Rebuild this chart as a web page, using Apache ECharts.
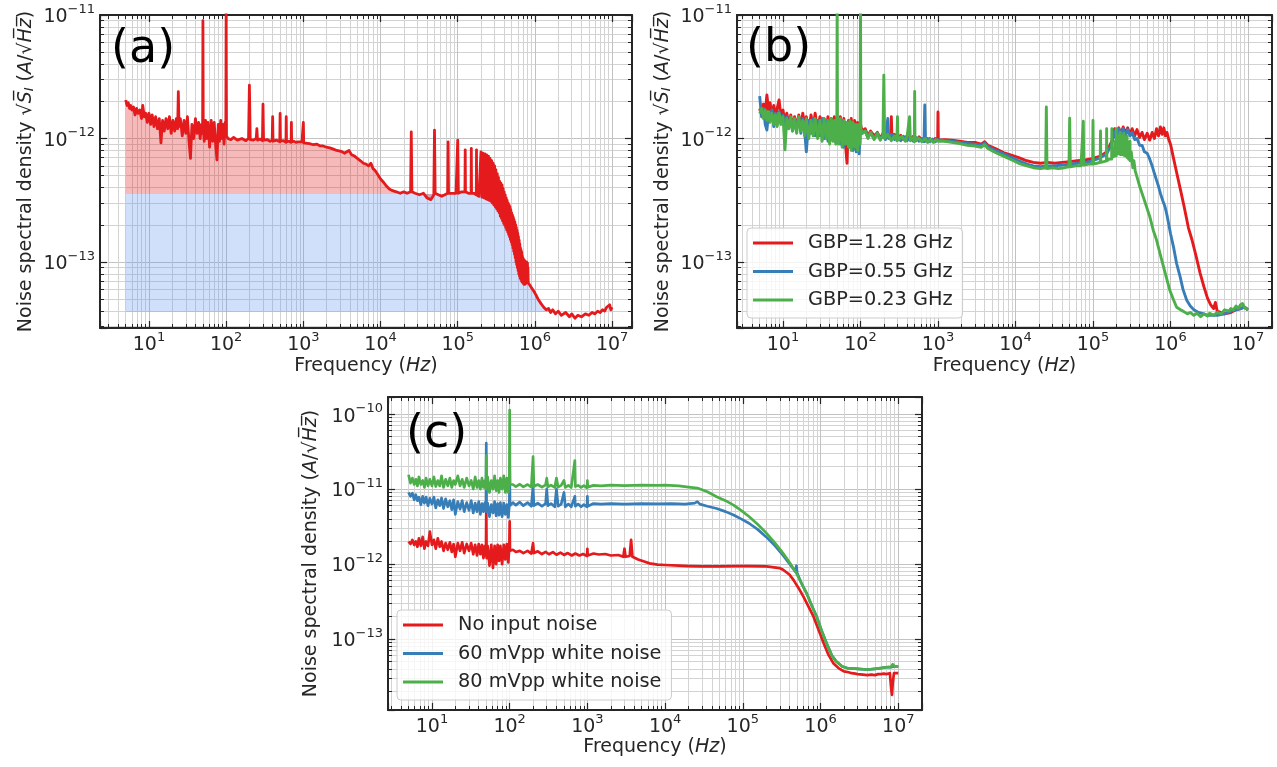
<!DOCTYPE html>
<html>
<head>
<meta charset="utf-8">
<script src="https://cdn.jsdelivr.net/npm/echarts@6/dist/echarts.min.js"></script>
<style>
  html, body { margin: 0; padding: 0; background: #ffffff; }
  #chart { width: 1277px; height: 767px; }
</style>
</head>
<body>
<div id="chart"></div>
<script>
// ---------------------------------------------------------------
// Measured noise spectra, pairs of [frequency in Hz, noise in pA/√Hz]
// ---------------------------------------------------------------

// (a) amplifier noise with the white-noise level shaded
const sweepA = [
  [5,2.05],[5.2,1.85],[5.4,1.95],[5.6,1.75],[5.8,1.85],[6,1.7],[6.3,1.8],[6.6,1.55],[6.9,1.75],[7.2,1.6],
  [7.6,1.7],[8,1.45],[8.3,1.85],[8.7,1.5],[9.1,1.6],[9.5,1.35],[10,1.6],[10.5,1.3],[11,1.55],[11.6,1.25],
  [12.2,1.5],[12.9,1.2],[13.6,1.45],[14.3,0.92],[15,1.4],[15.8,1.15],[16.6,1.45],[17.5,1.2],[18.4,1.5],[19.4,1.1],
  [20.4,1.4],[21.5,1.15],[22.6,1.45],[23.5,1.2],[24,2.4],[24.5,1.25],[25.5,1.45],[27,1.05],[28.5,1.4],[30,1.1],
  [31.5,1.5],[33,0.95],[34.5,0.69],[36,1.3],[38,1.0],[40,1.45],[42,1.1],[44,1.35],[46,1.0],[48,1.3],
  [49.5,1.1],[50,9.0],[50.5,1.2],[52,0.95],[54,1.4],[56,1.0],[58,1.35],[61,0.85],[64,1.4],[67,0.95],
  [70,1.35],[73,0.9],[76,0.67],[79,1.3],[82,0.95],[85,1.4],[88,1.0],[91,1.3],[94,0.9],[97,1.35],
  [99,1.1],[100,12],[101,1.05],
  [105,1.0],[115,0.98],[125,1.02],[140,0.97],[160,1.0],[180,0.96],[195,1.0],[200,2.7],[205,0.98],[225,0.97],
  [245,1.0],[250,1.2],[255,0.97],[275,0.99],[295,0.96],[300,1.9],[305,0.97],[340,0.98],[370,0.95],[395,0.97],
  [400,1.5],[405,0.95],[450,0.97],[495,0.94],[500,1.6],[505,0.95],[550,0.96],[595,0.93],[600,1.5],[605,0.94],
  [650,0.95],[695,0.93],[700,1.35],[705,0.94],[750,0.95],[800,0.93],[850,0.94],[900,0.92],[960,0.94],[995,0.93],
  [1000,1.35],[1010,0.92],
  [1200,0.91],[1350,0.89],[1500,0.9],[1650,0.87],[1800,0.87],[2000,0.85],[2200,0.84],[2450,0.82],[2700,0.8],[3000,0.79],
  [3200,0.78],[3400,0.76],[3600,0.76],[3900,0.8],[4200,0.74],[4600,0.72],[5000,0.69],[5500,0.66],[6000,0.63],[6500,0.62],
  [7000,0.6],[7500,0.63],[8000,0.57],[8500,0.55],[9200,0.51],[10000,0.47],[11000,0.44],[12000,0.41],[13000,0.39],[14000,0.38],
  [16000,0.37],[18000,0.36],[20000,0.37],
  [22000,0.36],[24500,0.37],[25000,1.13],[25500,0.37],[28000,0.36],[32000,0.35],[36000,0.36],[40000,0.33],[45000,0.32],[49000,0.35],
  [50000,1.17],[51000,0.36],[56000,0.35],[62000,0.34],[68000,0.35],[74000,0.36],[75000,0.94],[76000,0.36],[85000,0.36],[95000,0.36],
  [100000,0.97],[102000,0.36],[112000,0.37],[124000,0.37],[125000,0.81],[126000,0.37],[138000,0.36],[149000,0.36],[150000,0.83],[151000,0.36],
  [162000,0.36],[174000,0.35],[175000,0.81],[176000,0.35],[188000,0.34],[199000,0.34],
  // comb of 12.5 kHz harmonics riding on the roll-off
  [200000,0.78],[206000,0.335],[212000,0.76],[219000,0.33],[225000,0.75],[231000,0.325],[237000,0.735],[244000,0.32],
  [250000,0.72],[256000,0.315],[262000,0.69],[269000,0.31],[275000,0.66],[281000,0.3],[287000,0.63],[294000,0.29],
  [300000,0.6],[306000,0.28],[312000,0.56],[319000,0.27],[325000,0.52],[331000,0.26],[337000,0.485],[344000,0.25],
  [350000,0.45],[356000,0.235],[362000,0.435],[369000,0.225],[375000,0.42],[381000,0.215],[387000,0.395],[394000,0.205],
  [400000,0.37],[406000,0.198],[412000,0.35],[419000,0.19],[425000,0.33],[431000,0.182],[437000,0.315],[444000,0.175],
  [450000,0.3],[456000,0.167],[462000,0.29],[469000,0.16],[475000,0.28],[481000,0.152],[487000,0.265],[494000,0.145],
  [500000,0.25],[506000,0.138],[512000,0.24],[519000,0.13],[525000,0.23],[531000,0.122],[537000,0.22],[544000,0.115],
  [550000,0.21],[556000,0.108],[562000,0.2],[569000,0.1],[575000,0.19],[581000,0.095],[587000,0.18],[594000,0.09],
  [600000,0.17],[606000,0.085],[612000,0.16],[619000,0.08],[625000,0.15],[631000,0.077],[637000,0.14],[644000,0.074],
  [650000,0.13],[656000,0.072],[662000,0.125],[669000,0.07],[675000,0.12],[681000,0.069],[687000,0.112],[694000,0.068],
  [700000,0.108],[706000,0.067],[712000,0.105],[719000,0.066],[725000,0.104],[731000,0.066],[737000,0.102],[744000,0.066],
  [750000,0.1],[756000,0.067],[762000,0.1],[769000,0.067],[775000,0.1],[781000,0.068],[787000,0.099],[794000,0.068],
  [800000,0.098],[806000,0.068],[812000,0.09],[819000,0.068],
  [850000,0.066],[900000,0.062],[950000,0.059],[1000000,0.056],[1050000,0.053],[1100000,0.05],[1200000,0.046],[1300000,0.043],
  [1400000,0.041],[1500000,0.042],[1600000,0.039],[1700000,0.041],[1850000,0.038],[2000000,0.04],[2200000,0.037],[2500000,0.039],
  [2800000,0.036],[3000000,0.038],[3300000,0.035],[3600000,0.037],[4000000,0.036],[4500000,0.038],[5000000,0.037],[5500000,0.039],
  [6000000,0.038],[6500000,0.04],[7000000,0.039],[7500000,0.041],[8000000,0.04],[8500000,0.043],[8800000,0.044],[9000000,0.042],
  [9300000,0.045],[9600000,0.041],[10000000,0.043]
];
const whiteLevelA = 0.356;   // pA/√Hz, top of the blue band
const floorLevelA = 0.0394;  // pA/√Hz, bottom of the blue band
const kneeA = 2.6e5;         // Hz, end of the flat white-noise band
const fillEndA = 1.6e6;      // Hz, where the roll-off meets the floor

// (b) three gain-bandwidth products
const gbp128 = [
  [5,1.75],[5.3,1.55],[5.6,1.9],[5.9,1.6],[6.2,2.25],[6.5,1.7],[6.8,1.95],[7.2,1.55],[7.6,1.85],[8,1.5],
  [8.4,1.75],[8.9,2.05],[9.4,1.5],[10,1.7],[10.6,1.35],[11.2,1.6],[11.9,1.3],[12.6,1.55],[13.3,1.2],[14.1,1.5],
  [15,1.25],[16,1.55],[17,1.2],[18,1.6],[19,1.25],[20,1.5],[21.5,1.15],[23,1.55],[24.5,1.2],[26,1.6],
  [28,1.15],[30,1.5],[32,1.1],[34,1.45],[36,1.05],[38,1.5],[40,1.1],[42,1.45],[44,1.05],[46,1.5],
  [48,1.1],[50,1.45],[52,1.0],[55,1.5],[58,0.95],[61,1.45],[64,0.9],[67,0.63],[70,1.4],[73,0.95],
  [76,1.45],[80,0.95],[84,1.4],[88,0.9],[92,1.35],[96,0.95],[100,1.3],
  [105,1.15],[115,1.2],[125,1.05],[135,1.15],[150,1.05],[165,1.12],[180,1.0],[195,1.1],[210,1.0],[225,1.1],
  [245,1.0],[250,1.5],[255,1.0],[275,1.08],[300,1.0],[330,1.06],[360,0.98],[400,1.05],[440,0.97],[480,1.04],
  [520,0.96],[570,1.03],[620,0.96],[670,1.02],[720,0.95],[780,1.0],[850,0.95],[920,1.0],[990,0.96],[1000,1.64],
  [1010,0.97],
  [1200,0.98],[1500,0.97],[1900,0.95],[2400,0.93],[3000,0.93],[3600,0.9],[4000,0.94],[4400,0.88],[5500,0.83],[7000,0.77],
  [9000,0.73],[11000,0.7],[14000,0.66],[17000,0.64],[21000,0.63],[26000,0.64],[32000,0.63],[40000,0.64],[50000,0.65],[63000,0.66],
  [80000,0.67],[100000,0.69],[125000,0.72],[150000,0.78],[175000,0.95],
  [190000,1.2],[200000,1.05],[215000,1.22],[230000,1.08],[245000,1.24],[260000,1.1],[280000,1.22],[300000,1.08],[320000,1.2],[345000,1.05],
  [370000,1.18],[400000,1.02],[430000,1.12],[460000,0.98],[500000,1.1],[540000,0.97],[580000,1.12],[620000,1.0],[660000,1.2],[700000,1.05],
  [740000,1.24],[780000,1.08],[820000,1.22],[860000,1.05],[900000,1.12],[950000,0.98],
  [1000000,0.9],[1100000,0.68],[1200000,0.53],[1350000,0.38],[1500000,0.28],[1700000,0.19],[1900000,0.15],[2150000,0.11],[2400000,0.082],[2700000,0.063],
  [3000000,0.051],[3300000,0.045],[3600000,0.042],[3800000,0.047],[4000000,0.04],[5000000,0.038],[6000000,0.039],[7000000,0.041],[8000000,0.042],[9000000,0.043],
  [10000000,0.041]
];
const gbp055 = [
  [5,2.2],[5.3,1.5],[5.6,1.75],[5.9,1.3],[6.2,1.17],[6.5,1.6],[6.8,1.4],[7.2,1.7],[7.6,1.25],[8,1.6],
  [8.4,1.3],[8.9,1.65],[9.4,1.35],[10,1.55],[10.6,1.2],[11.2,1.5],[11.9,1.25],[12.6,1.45],[13.3,1.15],[14.1,1.45],
  [15,1.2],[16,1.5],[17,1.1],[18,1.45],[19,1.15],[20,0.78],[21.5,1.4],[23,1.1],[24.5,1.45],[26,1.05],
  [28,1.4],[30,1.05],[32,1.45],[34,1.0],[36,1.4],[38,0.95],[40,1.4],[42,1.0],[44,1.35],[46,0.95],
  [48,1.4],[50,1.0],[52,1.35],[55,0.9],[58,1.4],[61,0.85],[64,1.35],[67,0.9],[70,1.3],[73,0.85],
  [76,1.35],[80,0.8],[84,1.3],[88,0.78],[92,1.3],[96,0.75],[100,1.2],
  [105,1.1],[115,1.15],[125,1.02],[135,1.12],[150,1.0],[165,1.1],[180,0.98],[195,1.08],[210,0.98],[225,1.45],
  [230,1.0],[250,1.08],[275,0.98],[300,1.05],[330,0.96],[360,1.04],[400,0.96],[440,1.03],[480,0.95],[520,1.02],
  [570,0.95],[620,1.0],[660,0.94],[675,1.87],[690,0.95],[730,1.0],[780,0.94],[850,0.99],[920,0.94],[990,0.98],
  [1200,0.96],[1500,0.95],[1900,0.93],[2400,0.91],[3000,0.9],[3600,0.88],[4000,0.92],[4400,0.86],[5500,0.8],[7000,0.75],
  [9000,0.7],[11000,0.66],[14000,0.62],[17000,0.6],[21000,0.59],[26000,0.6],[32000,0.6],[40000,0.61],[50000,0.62],[63000,0.63],
  [80000,0.64],[100000,0.66],[125000,0.7],[150000,0.75],[175000,0.9],
  [190000,1.15],[200000,1.0],[215000,1.2],[230000,1.05],[245000,1.2],[260000,1.05],[280000,1.18],[300000,1.05],[320000,1.12],[345000,0.98],
  [370000,1.0],[400000,0.88],[430000,0.88],[460000,0.78],[500000,0.76],[540000,0.68],[580000,0.6],[620000,0.52],[660000,0.46],[700000,0.41],
  [750000,0.35],[800000,0.31],[850000,0.28],[900000,0.24],[1000000,0.17],[1100000,0.13],[1200000,0.097],[1330000,0.076],[1450000,0.06],[1620000,0.049],
  [1800000,0.044],[2000000,0.041],[2300000,0.039],[2700000,0.038],[3000000,0.037],[4000000,0.037],[5000000,0.038],[6000000,0.04],[7000000,0.041],[8000000,0.042],
  [9000000,0.043],[10000000,0.041]
];
const gbp023 = [
  [5,1.6],[5.3,1.75],[5.6,1.45],[5.9,1.7],[6.2,1.4],[6.5,1.65],[6.8,1.35],[7.2,1.6],[7.6,1.3],[8,1.55],
  [8.4,1.25],[8.9,1.6],[9.4,1.3],[10,1.5],[10.6,0.81],[11.2,1.45],[11.9,1.2],[12.6,1.5],[13.3,1.15],[14.1,1.45],
  [15,1.1],[16,1.5],[17,1.15],[18,1.4],[19,1.05],[20,1.45],[21.5,1.0],[23,1.4],[24.5,1.05],[26,1.45],
  [28,1.0],[30,1.4],[32,0.95],[34,1.45],[36,1.0],[38,1.4],[40,0.9],[42,1.45],[44,0.95],[46,1.4],
  [48,0.9],[49.5,1.3],[50,14],[50.5,1.3],[52,0.9],[55,1.45],[58,0.85],[61,1.4],[64,0.9],[67,1.35],
  [70,0.85],[73,1.4],[76,0.8],[80,1.35],[84,0.85],[88,1.3],[92,0.8],[96,1.3],[99,0.9],[100,14],
  [101,1.2],
  [105,1.1],[115,1.15],[125,1.0],[135,1.12],[150,0.98],[165,1.1],[180,0.97],[195,1.06],[200,3.26],[205,1.0],
  [225,1.08],[250,0.96],[275,1.05],[295,0.96],[300,1.5],[305,0.97],[340,1.04],[380,0.95],[400,1.05],[430,1.5],
  [440,0.96],[480,1.02],[495,0.94],[500,2.4],[505,0.95],[560,1.01],[620,0.94],[680,1.0],[740,0.93],[800,0.99],
  [870,0.93],[940,0.98],[1000,0.95],
  [1200,0.95],[1500,0.93],[1900,0.91],[2400,0.88],[3000,0.87],[3600,0.85],[4000,0.89],[4400,0.83],[5500,0.77],[7000,0.72],
  [9000,0.67],[11000,0.63],[14000,0.6],[17000,0.58],[21000,0.57],[24500,0.58],[25000,1.8],[25500,0.57],[30000,0.58],[36000,0.57],
  [43000,0.58],[49000,0.59],[50000,1.46],[51000,0.59],[60000,0.6],[70000,0.6],[74000,0.61],[75000,1.38],[76000,0.61],[88000,0.62],
  [99000,0.62],[100000,1.4],[101000,0.62],[112000,0.63],[124000,0.64],[125000,1.15],[126000,0.64],[138000,0.65],[149000,0.66],[150000,1.2],
  [151000,0.66],[162000,0.68],[174000,0.68],[175000,1.2],[176000,0.7],[188000,0.72],[194000,0.95],[199000,0.72],[200000,1.2],[201000,0.74],
  [206000,1.0],[212000,0.75],[219000,1.05],[225000,1.12],[226000,0.74],[232000,1.0],[240000,0.74],[245000,1.05],[250000,1.1],[251000,0.73],
  [257000,0.98],[263000,0.72],[269000,0.95],[275000,1.05],[276000,0.7],[282000,0.9],[288000,0.68],[294000,0.86],[300000,0.95],[301000,0.66],
  [312000,0.78],[325000,0.8],[326000,0.58],[337000,0.66],[350000,0.55],[365000,0.5],[380000,0.46],[400000,0.41],[450000,0.33],[540000,0.233],
  [600000,0.18],[660000,0.151],[730000,0.118],[810000,0.092],[900000,0.072],[980000,0.059],[1100000,0.049],[1200000,0.043],[1350000,0.041],[1470000,0.0398],
  [1650000,0.038],[1800000,0.039],[2000000,0.037],[2200000,0.0385],[2450000,0.036],[2700000,0.038],[3000000,0.0365],[3200000,0.0385],[3600000,0.037],[4000000,0.039],
  [4500000,0.038],[5000000,0.041],[5300000,0.042],[5700000,0.04],[6000000,0.042],[6500000,0.041],[7000000,0.044],[7500000,0.042],[8000000,0.045],[8500000,0.046],
  [9000000,0.043],[9500000,0.044],[10000000,0.041]
];

// (c) with white noise injected at the input
const noInput = [
  [5,2.0],[5.3,1.85],[5.6,2.1],[5.9,1.8],[6.2,2.0],[6.5,1.7],[6.8,2.2],[7.2,1.75],[7.6,2.3],[8,1.6],
  [8.4,2.0],[8.9,1.75],[9.4,2.7],[10,1.8],[10.6,2.1],[11.2,1.6],[11.9,2.2],[12.6,1.7],[13.3,2.0],[14.1,1.5],
  [15,1.9],[16,1.55],[17,1.95],[18,1.45],[19,1.85],[20,1.25],[21.5,1.9],[23,1.5],[24.5,1.95],[26,1.4],
  [28,1.85],[30,1.5],[32,1.9],[34,1.35],[36,1.8],[38,1.3],[40,1.85],[42,1.35],[44,1.8],[46,1.2],
  [48,1.75],[49.5,1.3],[50,5.8],[50.5,1.2],[52,1.75],[55,0.95],[58,1.8],[61,0.89],[64,1.75],[67,1.0],
  [70,1.8],[73,1.1],[76,1.75],[80,1.0],[84,1.8],[88,1.15],[92,1.85],[96,1.05],[99,1.7],[100,3.7],
  [101,1.5],
  [110,1.55],[120,1.45],[135,1.5],[150,1.4],[170,1.5],[190,1.38],[200,1.9],[205,1.4],[230,1.48],[260,1.36],
  [290,1.45],[320,1.35],[360,1.44],[400,1.33],[450,1.42],[500,1.32],[560,1.4],[630,1.3],[700,1.38],[790,1.3],
  [880,1.36],[990,1.28],[1000,1.6],[1010,1.3],
  [1200,1.38],[1400,1.34],[1700,1.36],[2000,1.3],[2500,1.32],[2900,1.25],[3000,1.6],[3100,1.25],[3500,1.28],[3650,2.1],
  [3800,1.25],[4500,1.15],[5500,1.07],[6300,1.02],[8000,0.98],[10000,0.97],[15000,0.95],[20000,0.94],[30000,0.93],[50000,0.93],
  [80000,0.94],[120000,0.94],[200000,0.93],[300000,0.88],[330000,0.84],[400000,0.72],[450000,0.61],[520000,0.48],[600000,0.37],[700000,0.27],
  [810000,0.2],[950000,0.13],[1100000,0.087],[1250000,0.063],[1470000,0.047],[1700000,0.041],[2000000,0.037],[2300000,0.036],[2500000,0.035],[2800000,0.0345],
  [3000000,0.034],[3500000,0.0335],[4000000,0.033],[4500000,0.0335],[5000000,0.033],[5500000,0.034],[6000000,0.034],[6500000,0.0345],[7000000,0.034],[7800000,0.035],
  [8100000,0.022],[8300000,0.018],[8500000,0.026],[8800000,0.035],[9300000,0.034],[10000000,0.035]
];
const white60 = [
  [5,9.0],[5.3,8.0],[5.6,8.8],[5.9,7.2],[6.2,8.4],[6.5,7.0],[6.8,7.8],[7.2,6.2],[7.6,8.0],[8,6.5],
  [8.4,7.8],[8.9,6.0],[9.4,7.5],[10,6.3],[10.6,7.8],[11.2,5.6],[11.9,7.2],[12.6,6.0],[13.3,7.6],[14.1,5.5],
  [15,7.4],[16,5.8],[17,7.0],[18,5.3],[19,7.2],[20,4.6],[21.5,6.8],[23,5.4],[24.5,7.0],[26,5.0],
  [28,6.6],[30,5.2],[32,7.0],[34,4.8],[36,6.5],[38,5.0],[40,6.8],[42,4.6],[44,6.4],[46,5.0],
  [48,6.6],[49.5,5.0],[50,41],[50.5,5.0],[52,6.5],[55,4.3],[58,6.2],[61,4.8],[64,6.8],[67,4.4],
  [70,6.4],[73,4.5],[76,6.6],[80,4.3],[84,6.5],[88,4.6],[92,6.2],[96,4.2],[99,6.0],[100,20],
  [101,6.0],
  [110,6.6],[120,6.1],[135,6.7],[150,6.0],[170,6.6],[190,5.9],[200,11],[205,6.0],[230,6.5],[260,5.9],
  [290,6.4],[300,10],[310,6.0],[340,6.4],[380,5.8],[400,10],[420,5.9],[460,6.3],[500,9],[520,5.8],
  [570,6.3],[620,5.8],[690,8],[700,5.9],[760,6.3],[830,5.8],[900,6.2],[990,5.8],[1000,8],[1010,5.9],
  [1200,6.4],[1500,6.3],[2000,6.4],[3000,6.3],[5000,6.4],[8000,6.35],[12000,6.4],[18000,6.3],[24000,6.5],[26000,6.8],
  [28000,6.3],[35000,5.9],[46000,5.5],[60000,5.0],[76000,4.5],[95000,4.0],[120000,3.5],[155000,2.9],[200000,2.3],[260000,1.75],
  [330000,1.3],[400000,1.0],[470000,0.8],[490000,0.95],[500000,0.76],[570000,0.55],[660000,0.41],[770000,0.28],[890000,0.2],[1030000,0.13],
  [1200000,0.087],[1400000,0.06],[1600000,0.05],[1900000,0.043],[2200000,0.041],[3000000,0.04],[4000000,0.039],[5000000,0.04],[6000000,0.041],[7000000,0.042],
  [8000000,0.042],[9000000,0.043],[10000000,0.043]
];
const white80 = [
  [5,15.5],[5.3,12],[5.6,14],[5.9,11.5],[6.2,13.5],[6.5,11],[6.8,14.5],[7.2,11.5],[7.6,13],[8,10.5],
  [8.4,14],[8.9,11],[9.4,13.5],[10,11],[10.6,14.5],[11.2,10.8],[11.9,13],[12.6,11],[13.3,15],[14.1,10.5],
  [15,13.5],[16,11],[17,14],[18,10.5],[19,13],[20,11.5],[21.5,15],[23,11],[24.5,13.5],[26,10.5],
  [28,14],[30,11],[32,13],[34,10],[36,14.5],[38,10.5],[40,13],[42,10],[44,14],[46,10.5],
  [48,13],[49.5,10],[50,28],[50.5,11],[52,14.5],[55,9],[58,13],[61,10],[64,15],[67,9.5],
  [70,13],[73,9],[76,14],[80,10],[84,15],[88,9],[92,14],[96,9],[99,12],[100,113],
  [101,11.5],
  [110,11.5],[120,10.8],[135,11.6],[150,10.7],[170,11.5],[190,10.6],[200,27],[205,10.8],[230,11.5],[260,10.6],
  [290,11.4],[300,14],[310,10.7],[340,11.3],[380,10.5],[400,14],[420,10.6],[460,11.2],[500,13],[520,10.5],
  [570,11.2],[620,10.5],[690,24],[700,10.8],[760,11.2],[830,10.5],[900,11.1],[990,10.4],[1000,13],[1010,10.6],
  [1200,11.2],[1500,11.0],[2000,11.3],[3000,11.1],[5000,11.3],[8000,11.2],[10000,11.3],[15000,11.0],[20000,10.6],[26000,10.3],
  [35000,9.2],[46000,7.9],[60000,7.0],[76000,6.1],[95000,5.2],[120000,4.3],[155000,3.4],[200000,2.6],[260000,1.9],[330000,1.39],
  [400000,1.05],[490000,0.75],[570000,0.55],[660000,0.41],[770000,0.28],[890000,0.2],[1030000,0.13],[1200000,0.087],[1400000,0.06],[1600000,0.05],
  [1900000,0.043],[2200000,0.041],[2600000,0.0405],[3000000,0.04],[3500000,0.0395],[4000000,0.039],[4500000,0.0395],[5000000,0.04],[5500000,0.0405],[6000000,0.041],
  [6500000,0.0415],[7000000,0.042],[7500000,0.0425],[8000000,0.042],[8500000,0.046],[9000000,0.043],[9500000,0.044],[10000000,0.043]
];

const seriesNamesB = ['GBP=1.28 GHz', 'GBP=0.55 GHz', 'GBP=0.23 GHz'];
const seriesNamesC = ['No input noise', '60 mVpp white noise', '80 mVpp white noise'];
const panelTags = ['(a)', '(b)', '(c)'];

// ---------------------------------------------------------------
// Styling
// ---------------------------------------------------------------
const FONT = 'DejaVu Sans';
const INK = '#262626';
const RED = '#e41a1c', BLUE = '#377eb8', GREEN = '#4daf4a';
const PA = 1e-12; // pA -> A

const toAmps = arr => arr.map(p => [p[0], p[1] * PA]);

// Power-of-ten tick labels: 10 with a superscript exponent
function decadeLabel(v) {
  const e = Math.log10(v);
  const r = Math.round(e);
  if (Math.abs(e - r) > 1e-6) return '';
  const exp = r < 0 ? '\u2212' + (-r) : String(r);
  return '{b|10}{s|' + exp + '}';
}
const tickRich = {
  b: { fontFamily: FONT, fontSize: 19, color: INK, lineHeight: 24, verticalAlign: 'bottom' },
  s: { fontFamily: FONT, fontSize: 13, color: INK, verticalAlign: 'top' }
};
const nameRich = {
  n: { fontFamily: FONT, fontSize: 19, color: INK },
  i: { fontFamily: FONT, fontSize: 19, color: INK, fontStyle: 'italic' },
  sub: { fontFamily: FONT, fontSize: 13, color: INK, fontStyle: 'italic', verticalAlign: 'bottom' }
};
const xName = '{n|Frequency (}{i|Hz}{n|)}';
const yNameAB = '{n|Noise spectral density \u221A}{i|S\u0305}{sub|I}{n| (}{i|A}{n|/\u221A}{i|H\u0305z\u0305}{n|)}';
const yNameC = '{n|Noise spectral density (}{i|A}{n|/\u221A}{i|H\u0305z\u0305}{n|)}';

const gridLine = { show: true, lineStyle: { color: '#c2c2c2', width: 1 } };
const minorGridLine = { show: true, lineStyle: { color: '#d3d3d3', width: 1 } };

function logAxis(gridIndex, min, max, position, extra) {
  return Object.assign({
    type: 'log', logBase: 10, gridIndex, min, max, position,
    axisLine: { show: true, lineStyle: { color: INK, width: 2 } },
    axisTick: { show: true, inside: true, length: 7, lineStyle: { color: INK, width: 1.2 } },
    minorTick: { show: true, splitNumber: 9, length: 4, lineStyle: { color: INK, width: 1 } },
    splitLine: { show: false },
    minorSplitLine: { show: false },
    axisLabel: { show: false }
  }, extra || {});
}

function panelAxes(gridIndex, xr, yr, yName, yNameGap, xNameGap) {
  const xs = [
    logAxis(gridIndex, xr[0], xr[1], 'bottom', {
      splitLine: gridLine, minorSplitLine: minorGridLine,
      axisLabel: { show: true, margin: 3, formatter: decadeLabel, rich: tickRich, hideOverlap: false },
      name: xName, nameLocation: 'middle', nameGap: xNameGap,
      nameTextStyle: { rich: nameRich }
    }),
    logAxis(gridIndex, xr[0], xr[1], 'top')
  ];
  const ys = [
    logAxis(gridIndex, yr[0], yr[1], 'left', {
      splitLine: gridLine, minorSplitLine: minorGridLine,
      axisLabel: { show: true, margin: 5, formatter: decadeLabel, rich: tickRich, hideOverlap: false },
      name: yName, nameLocation: 'middle', nameRotate: 90, nameGap: yNameGap,
      nameTextStyle: { rich: nameRich }
    }),
    logAxis(gridIndex, yr[0], yr[1], 'right')
  ];
  return { xs, ys };
}

const axA = panelAxes(0, [2.32, 1.81e7], [2.92e-14, 1e-11], yNameAB, 64, 29);
const axB = panelAxes(1, [2.55, 2.04e7], [2.92e-14, 1e-11], yNameAB, 64, 29);
const axC = panelAxes(2, [2.72, 2.02e7], [1.13e-14, 1.69e-10], yNameC, 67, 27);

// x axes: 0,1 -> (a); 2,3 -> (b); 4,5 -> (c); same for y
const xAxes = [].concat(axA.xs, axB.xs, axC.xs);
const yAxes = [].concat(axA.ys, axB.ys, axC.ys);

function trace(name, data, color, axisIndex, width) {
  return {
    type: 'line', name, data: toAmps(data),
    xAxisIndex: axisIndex, yAxisIndex: axisIndex,
    symbol: 'none', showSymbol: false, clip: true, animation: false,
    lineStyle: { color, width, join: 'round' },
    itemStyle: { color },
    emphasis: { disabled: true }
  };
}

// Shaded bands of panel (a)
const redBand = sweepA.filter(p => p[0] <= kneeA);
const blueBand = sweepA.filter(p => p[0] <= fillEndA)
  .map(p => [p[0], p[0] <= kneeA ? whiteLevelA : Math.min(p[1], whiteLevelA)]);

function band(data, color, origin) {
  return {
    type: 'line', data: toAmps(data), xAxisIndex: 0, yAxisIndex: 0,
    symbol: 'none', showSymbol: false, clip: true, animation: false, silent: true,
    lineStyle: { width: 0, opacity: 0 },
    areaStyle: { color, origin: origin * PA, opacity: 1 },
    emphasis: { disabled: true }
  };
}

const series = [
  band(blueBand, 'rgba(100,149,237,0.30)', floorLevelA),
  band(redBand, 'rgba(228,26,28,0.30)', whiteLevelA),
  trace('sweep', sweepA, RED, 0, 2.8),

  trace(seriesNamesB[0], gbp128, RED, 2, 2.9),
  trace(seriesNamesB[1], gbp055, BLUE, 2, 2.9),
  trace(seriesNamesB[2], gbp023, GREEN, 2, 2.9),

  trace(seriesNamesC[0], noInput, RED, 4, 2.7),
  trace(seriesNamesC[1], white60, BLUE, 4, 2.7),
  trace(seriesNamesC[2], white80, GREEN, 4, 2.7)
];

function legendBox(names, left, top) {
  return {
    data: names, orient: 'vertical', left, top,
    icon: 'rect', itemWidth: 40, itemHeight: 3, itemGap: 8.5,
    padding: [5, 10, 8, 6],
    backgroundColor: 'rgba(255,255,255,0.8)',
    borderColor: '#cccccc', borderWidth: 1, borderRadius: 4,
    selectedMode: false,
    textStyle: { fontFamily: FONT, fontSize: 19.3, color: INK, lineHeight: 20, padding: [0, 0, 0, 10] }
  };
}

const tagPositions = [[111, 50], [746, 49], [406, 435]];
const graphic = panelTags.map((t, i) => ({
  type: 'text', x: tagPositions[i][0], y: tagPositions[i][1], z: 100,
  style: { text: t, font: '46px "DejaVu Sans"', fill: '#000000', verticalAlign: 'middle', align: 'left' }
}));

const option = {
  backgroundColor: '#ffffff',
  animation: false,
  textStyle: { fontFamily: FONT },
  grid: [
    { left: 100, top: 15, width: 532, height: 313 },
    { left: 737, top: 15, width: 535, height: 313 },
    { left: 388, top: 397, width: 534, height: 313 }
  ],
  xAxis: xAxes,
  yAxis: yAxes,
  legend: [legendBox(seriesNamesB, 747, 228), legendBox(seriesNamesC, 397, 610)],
  graphic,
  series
};

const chart = echarts.init(document.getElementById('chart'), null, { renderer: 'canvas' });
chart.setOption(option);
</script>
</body>
</html>
